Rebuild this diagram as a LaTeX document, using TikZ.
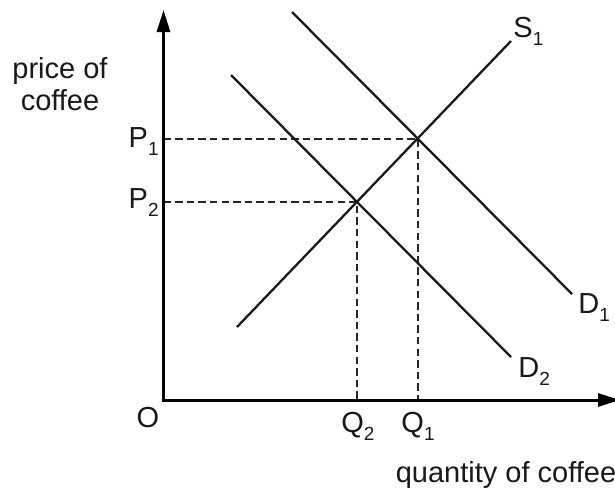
\documentclass[tikz,border=0pt]{standalone}
\usepackage{fontspec}
\setmainfont{Liberation Sans}
\usetikzlibrary{arrows.meta}
\newcommand{\idx}[1]{\raisebox{-4pt}{\fontsize{9.5}{9.5}\selectfont #1}}
\tikzset{
  axisline/.style={line width=1.5pt, line join=miter,
    arrows={{Triangle[length=11pt,width=6.5pt]}-{Triangle[length=11pt,width=6.5pt]}}},
  curveline/.style={line width=1.15pt, draw=black!90},
  guideline/.style={line width=0.6pt, draw=black!85, dash pattern=on 3.7pt off 2.1pt},
  lbl/.style={font=\fontsize{14.5}{16}\selectfont, inner sep=0pt, text=black!90}
}

\begin{document}
\begin{tikzpicture}[x=0.5pt,y=-0.5pt]
        \useasboundingbox (0,0) rectangle (615,493);

        \coordinate (o) at (163.5,400);
        \coordinate (ytop) at (163.5,10);
        \coordinate (xend) at (620,400);
        \coordinate (e1) at (418,139);
        \coordinate (e2) at (357,202);
        \coordinate (p1) at (163.5,139);
        \coordinate (p2) at (163.5,202);
        \coordinate (q1) at (418,400);
        \coordinate (q2) at (357,400);

        \coordinate (s1a) at (237,327);
        \coordinate (s1b) at (511,41);
        \coordinate (d1a) at (292,12);
        \coordinate (d1b) at (572,294);
        \coordinate (d2a) at (231,75);
        \coordinate (d2b) at (511,357);

        \draw[guideline] (p1) -- (e1) -- (q1);
        \draw[guideline] (p2) -- (e2) -- (q2);

        \foreach \a/\b in {s1a/s1b,d1a/d1b,d2a/d2b}
            \draw[curveline] (\a) -- (\b);

        \draw[axisline] (ytop) -- (o) -- (xend);

        \node[lbl, anchor=base west] (s1lbl) at (513,37) {S\idx{1}};
        \node[lbl, anchor=base west] (d1lbl) at (578,313) {D\idx{1}};
        \node[lbl, anchor=base west] (d2lbl) at (518,377) {D\idx{2}};
        \node[lbl, anchor=base east] (p1lbl) at (159,147) {P\idx{1}};
        \node[lbl, anchor=base east] (p2lbl) at (159,208) {P\idx{2}};
        \node[lbl, anchor=base] (olbl) at (148,427) {O};
        \node[lbl, anchor=base] (q2lbl) at (358,432) {Q\idx{2}};
        \node[lbl, anchor=base] (q1lbl) at (418,432) {Q\idx{1}};
        \node[lbl, align=center, anchor=north] (ylbl) at (60,57) {price of\\coffee};
        \node[lbl, anchor=base] (xlbl) at (506,482) {quantity of coffee};
    \end{tikzpicture}
\end{document}
